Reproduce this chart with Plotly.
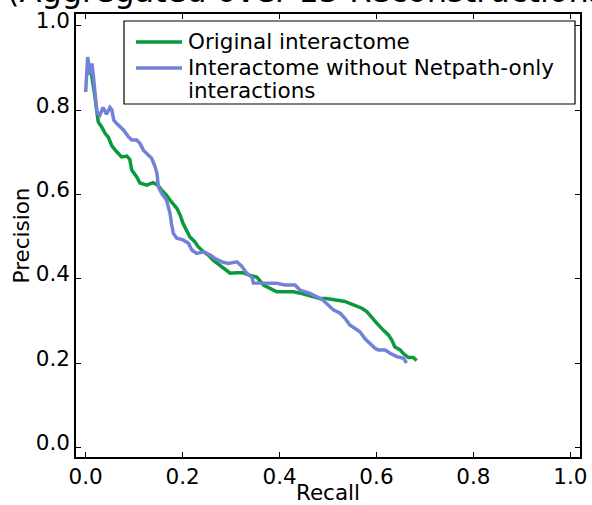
import plotly.graph_objects as go

# Original interactome (green)
orig_recall = [0.000, 0.005, 0.011, 0.016, 0.019, 0.023, 0.026, 0.033, 0.040, 0.047,
               0.054, 0.064, 0.074, 0.085, 0.091, 0.095, 0.105, 0.112, 0.126, 0.139,
               0.149, 0.157, 0.167, 0.177, 0.188, 0.195, 0.201, 0.208, 0.215, 0.225,
               0.232, 0.243, 0.253, 0.263, 0.277, 0.287, 0.298, 0.312, 0.325, 0.339,
               0.353, 0.367, 0.380, 0.394, 0.408, 0.428, 0.446, 0.459, 0.470, 0.483,
               0.497, 0.518, 0.535, 0.546, 0.559, 0.570, 0.580, 0.590, 0.601, 0.614,
               0.625, 0.632, 0.638, 0.649, 0.655, 0.666, 0.676, 0.683]
orig_precision = [0.888, 0.887, 0.893, 0.860, 0.832, 0.796, 0.772, 0.760, 0.745, 0.735,
                  0.715, 0.701, 0.689, 0.691, 0.683, 0.658, 0.642, 0.627, 0.622, 0.628,
                  0.622, 0.610, 0.598, 0.582, 0.567, 0.551, 0.531, 0.515, 0.499, 0.488,
                  0.476, 0.464, 0.456, 0.444, 0.432, 0.424, 0.413, 0.414, 0.414, 0.408,
                  0.404, 0.385, 0.377, 0.369, 0.369, 0.369, 0.365, 0.361, 0.357, 0.353,
                  0.353, 0.349, 0.346, 0.341, 0.335, 0.330, 0.322, 0.310, 0.294, 0.278,
                  0.266, 0.254, 0.238, 0.231, 0.223, 0.213, 0.213, 0.206]

# Interactome without Netpath-only interactions (blue)
nonet_recall = [0.000, 0.002, 0.004, 0.009, 0.013, 0.016, 0.020, 0.023, 0.029, 0.036,
                0.043, 0.050, 0.054, 0.058, 0.064, 0.071, 0.078, 0.088, 0.095, 0.105,
                0.112, 0.119, 0.129, 0.136, 0.143, 0.147, 0.150, 0.157, 0.167, 0.174,
                0.177, 0.181, 0.188, 0.201, 0.212, 0.219, 0.229, 0.243, 0.257, 0.267,
                0.281, 0.294, 0.312, 0.322, 0.333, 0.343, 0.346, 0.360, 0.380, 0.394,
                0.411, 0.432, 0.442, 0.463, 0.477, 0.490, 0.497, 0.511, 0.525, 0.535,
                0.545, 0.556, 0.566, 0.576, 0.587, 0.597, 0.604, 0.618, 0.628, 0.642,
                0.656, 0.662]
nonet_precision = [0.843, 0.900, 0.926, 0.887, 0.911, 0.879, 0.832, 0.796, 0.788, 0.806,
                   0.790, 0.806, 0.800, 0.776, 0.768, 0.760, 0.753, 0.737, 0.729, 0.729,
                   0.721, 0.705, 0.693, 0.686, 0.666, 0.650, 0.618, 0.602, 0.586, 0.555,
                   0.531, 0.507, 0.496, 0.492, 0.484, 0.468, 0.460, 0.464, 0.456, 0.448,
                   0.440, 0.436, 0.440, 0.430, 0.412, 0.404, 0.390, 0.390, 0.390, 0.389,
                   0.385, 0.385, 0.373, 0.365, 0.357, 0.349, 0.341, 0.326, 0.318, 0.306,
                   0.290, 0.282, 0.274, 0.258, 0.246, 0.235, 0.231, 0.231, 0.223, 0.215,
                   0.211, 0.200]

tick_vals = [0.0, 0.2, 0.4, 0.6, 0.8, 1.0]
tick_text = ["0.0", "0.2", "0.4", "0.6", "0.8", "1.0"]

series_names = ["Original interactome", "Interactome without Netpath-only", "interactions"]
series_colors = ["#0a9a3a", "#7282d8"]

FONT = "DejaVu Sans"
FS = 21.5

fig = go.Figure()
fig.add_trace(go.Scatter(x=orig_recall, y=orig_precision, mode="lines",
                         name="Original interactome", showlegend=False,
                         line=dict(color=series_colors[0], width=3.5)))
fig.add_trace(go.Scatter(x=nonet_recall, y=nonet_precision, mode="lines",
                         name="Interactome without Netpath-only interactions", showlegend=False,
                         line=dict(color=series_colors[1], width=3.5)))

axis_common = dict(
    showline=True, linecolor="black", linewidth=1.5, mirror="ticks",
    ticks="inside", ticklen=5, tickwidth=1, tickcolor="black",
    tickvals=tick_vals, ticktext=tick_text,
    tickfont=dict(family=FONT, size=FS, color="black"),
    showgrid=False, zeroline=False, automargin=False,
)

fig.update_layout(
    width=592, height=505,
    margin=dict(l=76, r=12, t=14, b=48),
    paper_bgcolor="white", plot_bgcolor="white",
    font=dict(family=FONT, size=FS, color="black"),
    xaxis=dict(range=[-0.02, 1.02], ticklabelstandoff=-1,
               title=dict(text="Recall", font=dict(family=FONT, size=FS), standoff=15),
               **axis_common),
    yaxis=dict(range=[-0.023, 1.028], ticklabelstandoff=0, ticklabelshift=-5,
               title=dict(text="Precision", font=dict(family=FONT, size=FS), standoff=0),
               **axis_common),
    showlegend=False,
)

# legend box (drawn in paper coordinates)
def px_x(p):
    return (p - 76) / 504.0

def px_y(p):
    return (457 - p) / 443.0

fig.add_shape(type="rect", xref="paper", yref="paper",
              x0=px_x(124), x1=px_x(575), y0=px_y(104), y1=px_y(21),
              line=dict(color="black", width=1.2), fillcolor="white", layer="above")
for c, yy in zip(series_colors, [42, 68]):
    fig.add_shape(type="line", xref="paper", yref="paper",
                  x0=px_x(136), x1=px_x(182), y0=px_y(yy), y1=px_y(yy),
                  line=dict(color=c, width=3.5), layer="above")
for name, yy in zip(series_names, [42, 68, 90]):
    fig.add_annotation(text=name, xref="paper", yref="paper",
                       x=px_x(186), y=px_y(yy), xanchor="left", yanchor="middle",
                       showarrow=False, font=dict(family=FONT, size=FS, color="black"))

fig.add_annotation(text="(Aggregated over 15 Reconstructions)",
                   xref="paper", yref="paper", x=-0.14, y=1.0,
                   xanchor="left", yanchor="bottom", yshift=2,
                   showarrow=False, font=dict(family=FONT, size=32, color="black"))

fig.write_html("out.html", config={"displayModeBar": False},
               post_script="document.body.style.margin='0';")
